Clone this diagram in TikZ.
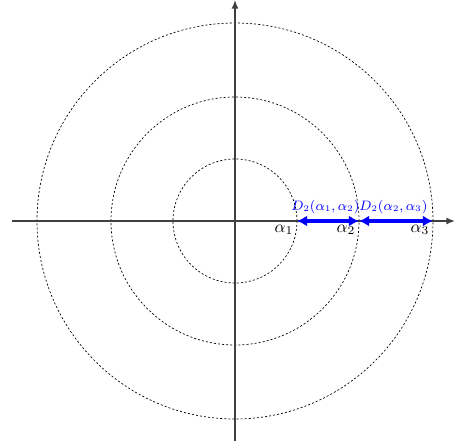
\documentclass[tikz,border=0pt]{standalone}
\usetikzlibrary{arrows.meta}
\begin{document}
\begin{tikzpicture}[x=0.588pt,y=0.588pt,
  axis/.style={line width=0.8pt,draw=black!75,-{Latex[length=5pt,width=4pt]}},
  circ/.style={draw=black,line width=0.4pt,dash pattern=on 1.2pt off 1.2pt},
  dist/.style={draw=blue,line width=1.9pt,{Latex[length=6pt,width=6.5pt]}-{Latex[length=6pt,width=6.5pt]}},
  dlab/.style={text=blue,font=\fontsize{7.8}{9}\selectfont,inner sep=0.5pt,anchor=south},
  alab/.style={anchor=north east,inner sep=2pt}]
\useasboundingbox (-235,-225) rectangle (221,221);
\coordinate (O) at (0,0);
\coordinate (xl) at (-223,0);
\coordinate (xr) at (220,0);
\coordinate (yb) at (0,-220);
\coordinate (yt) at (0,221);
\draw[circ] (O) circle[radius=62];
\draw[circ] (O) circle[radius=124];
\draw[circ] (O) circle[radius=198];
\draw[axis] (xl) -- (xr);
\draw[axis] (yb) -- (yt);
\coordinate (a1) at (62,0);
\coordinate (a2) at (124,0);
\coordinate (a3) at (198,0);
\draw[dist] (a1) -- node[dlab,above=3pt,xshift=-1.5pt] {$D_2(\alpha_1{,}\,\alpha_2)$} (a2);
\draw[dist] (a2) -- node[dlab,above=3pt,xshift=-1.5pt] {$D_2(\alpha_2{,}\,\alpha_3)$} (a3);
\node[alab] (l1) at (a1) {$\alpha_1$};
\node[alab] (l2) at (a2) {$\alpha_2$};
\node[alab] (l3) at (a3) {$\alpha_3$};
\end{tikzpicture}
\end{document}
